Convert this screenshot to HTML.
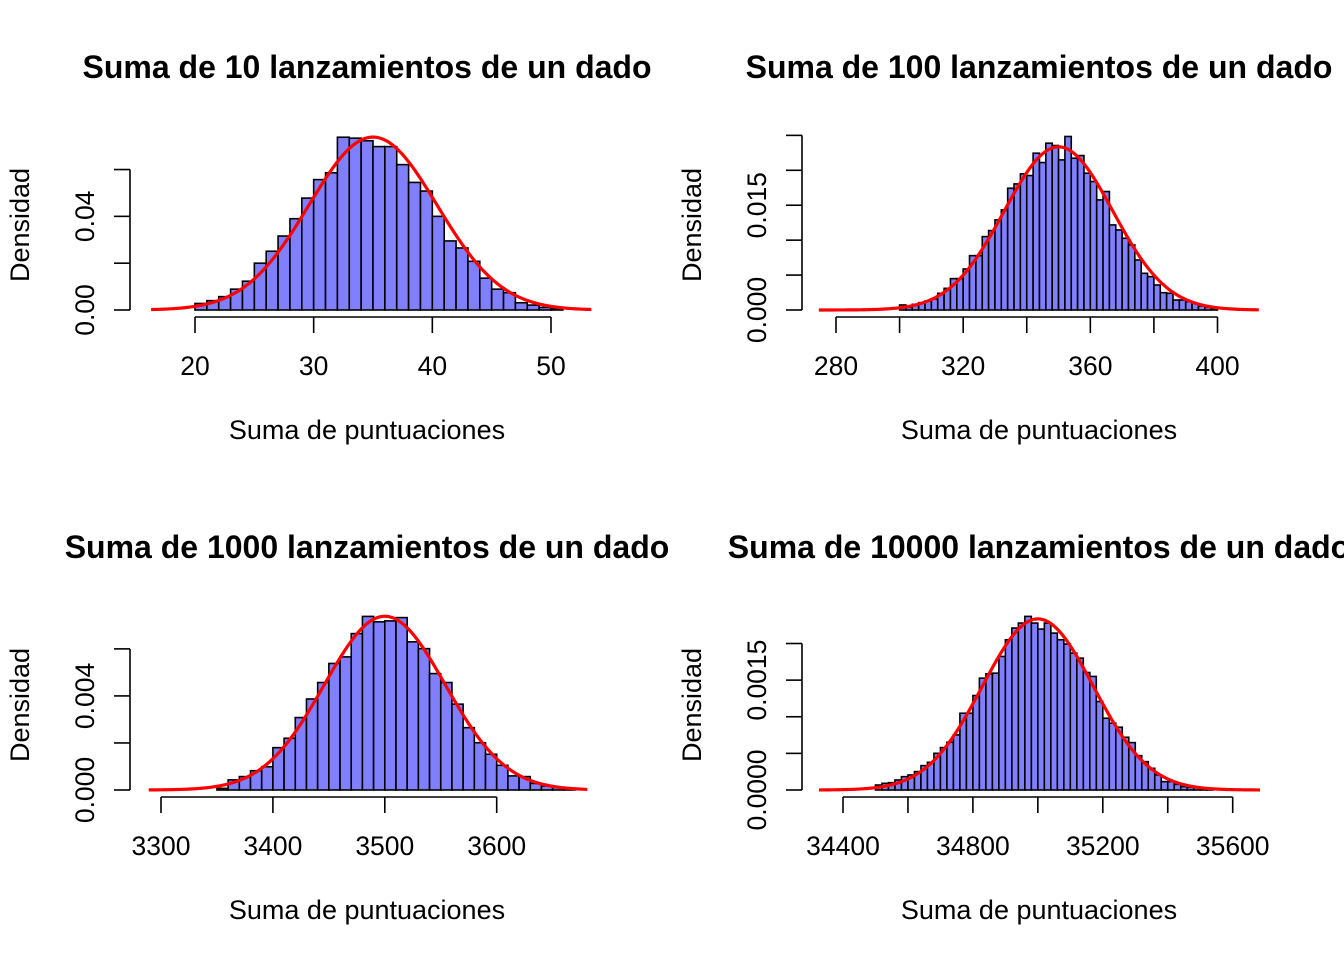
<!DOCTYPE html>
<html><head><meta charset="utf-8"><style>
html,body{margin:0;padding:0;background:#fff;}
svg{display:block;font-family:"Liberation Sans",Arial,sans-serif;}
</style></head><body>
<svg id="chart" width="1344" height="960" viewBox="0 0 1344 960" xmlns="http://www.w3.org/2000/svg"></svg>
<script>
// Panel 1: sum of 10 rolls, bins width 1 starting at 20
const p1Start = 20, p1Width = 1;
const p1Dens = [0.0028,0.004,0.0057,0.0089,0.0123,0.020,0.0251,0.0316,0.039,0.0478,0.0557,0.0586,0.0738,0.0734,0.0723,0.0698,0.0698,0.0621,0.0545,0.0508,0.040,0.0295,0.0265,0.0208,0.0136,0.0089,0.0074,0.0031,0.0021,0.0011,0.0007];
const p1XTicks = [20,30,40,50];
const p1XLabels = ["20","30","40","50"];
const p1YTicks = [0,0.02,0.04,0.06];
const p1YLabels = ["0.00","","0.04",""];
// Panel 2: sum of 100 rolls, bins width 2 starting at 300
const p2Start = 300, p2Width = 2;
const p2Dens = [0.00072,0.00038,0.00081,0.00105,0.00129,0.00158,0.00239,0.0031,0.00449,0.00449,0.00587,0.00778,0.00778,0.01051,0.01137,0.0129,0.01433,0.01743,0.01805,0.01949,0.01925,0.02245,0.02111,0.02388,0.02355,0.02149,0.02484,0.02173,0.02211,0.01958,0.01839,0.01576,0.01696,0.01218,0.01146,0.01027,0.00931,0.00716,0.00525,0.00478,0.00358,0.00248,0.00239,0.00143,0.00143,0.00119,0.00096,0.00057,0.00038,0.00024];
const p2XTicks = [280,300,320,340,360,380,400];
const p2XLabels = ["280","","320","","360","","400"];
const p2YTicks = [0,0.005,0.01,0.015,0.02,0.025];
const p2YLabels = ["0.000","","","0.015","",""];
// Panel 3: sum of 1000 rolls, bins width 10 starting at 3350
const p3Start = 3350, p3Width = 10;
const p3Dens = [0.00007,0.00043,0.00057,0.00082,0.00099,0.0018,0.0022,0.00308,0.00387,0.00457,0.00538,0.00566,0.00665,0.00738,0.00715,0.00719,0.00733,0.0063,0.00601,0.00495,0.00457,0.00365,0.00265,0.00201,0.00152,0.00105,0.0006,0.00057,0.00028,0.00017,0.00011,0.00007];
const p3XTicks = [3300,3400,3500,3600];
const p3XLabels = ["3300","3400","3500","3600"];
const p3YTicks = [0,0.002,0.004,0.006];
const p3YLabels = ["0.000","","0.004",""];
// Panel 4: sum of 10000 rolls, bins width 20 starting at 34500
const p4Start = 34500, p4Width = 20;
const p4Dens = [0.000068,0.000091,0.0001,0.000137,0.000182,0.000205,0.000251,0.000333,0.000378,0.000501,0.000579,0.000652,0.000752,0.001048,0.001048,0.00129,0.001527,0.001586,0.001595,0.001823,0.002051,0.002211,0.002279,0.00237,0.002279,0.002197,0.002279,0.002142,0.002051,0.001992,0.001869,0.0018,0.001604,0.00155,0.001208,0.00098,0.000912,0.000857,0.00072,0.000647,0.000469,0.000387,0.000296,0.000205,0.000114,0.000114,0.000077,0.000046,0.000036,0.000032,0.000023,0.000014];
const p4XTicks = [34400,34600,34800,35000,35200,35400,35600];
const p4XLabels = ["34400","","34800","","35200","","35600"];
const p4YTicks = [0,0.0005,0.001,0.0015,0.002];
const p4YLabels = ["0.0000","","","0.0015",""];

const NS = "http://www.w3.org/2000/svg";
const svg = document.getElementById("chart");
function mk(tag, attrs, parent){
  const e = document.createElementNS(NS, tag);
  for (const k in attrs) e.setAttribute(k, attrs[k]);
  (parent||svg).appendChild(e);
  return e;
}

const panels = [
  {n:10, start:p1Start, width:p1Width, dens:p1Dens, xt:p1XTicks, xl:p1XLabels, yt:p1YTicks, yl:p1YLabels,
   x0:20, px0:195, x1:50, px1:551, base:310, ypx:2341, yaxisX:130, cx:367, top:0, cmin:16.3, cmax:53.4},
  {n:100, start:p2Start, width:p2Width, dens:p2Dens, xt:p2XTicks, xl:p2XLabels, yt:p2YTicks, yl:p2YLabels,
   x0:280, px0:836, x1:400, px1:1217.5, base:310, ypx:6985, yaxisX:802, cx:1039, top:0, cmin:274.6, cmax:413},
  {n:1000, start:p3Start, width:p3Width, dens:p3Dens, xt:p3XTicks, xl:p3XLabels, yt:p3YTicks, yl:p3YLabels,
   x0:3300, px0:161, x1:3600, px1:496.7, base:790, ypx:23520, yaxisX:130, cx:367, top:480, cmin:3289, cmax:3681},
  {n:10000, start:p4Start, width:p4Width, dens:p4Dens, xt:p4XTicks, xl:p4XLabels, yt:p4YTicks, yl:p4YLabels,
   x0:34400, px0:843, x1:35600, px1:1232.7, base:790, ypx:73250, yaxisX:802, cx:1039, top:480, cmin:34326, cmax:35684}
];

panels.forEach((p, pi) => {
  const g = mk("g", {});
  
  
  const sx = v => p.px0 + (v - p.x0) * (p.px1 - p.px0) / (p.x1 - p.x0);
  const sy = d => p.base - d * p.ypx;

  const t = mk("text", {x:p.cx, y:p.top+78, "text-anchor":"middle", "font-size":"32", "font-weight":"bold", fill:"#000"}, g);
  t.textContent = "Suma de " + p.n + " lanzamientos de un dado";
  
  

  p.dens.forEach((d, i) => {
    const xa = sx(p.start + i * p.width), xb = sx(p.start + (i + 1) * p.width);
    const r = mk("rect", {x:xa, y:sy(d), width:xb - xa, height:p.base - sy(d), fill:"#8080ff", stroke:"#000", "stroke-width":"1.6"}, g);
    
    
  });

  const mu = p.n * 3.5, sd = Math.sqrt(p.n * 35 / 12);
  let pts = [];
  for (let k = 0; k <= 200; k++) {
    const v = p.cmin + (p.cmax - p.cmin) * k / 200;
    const d = Math.exp(-0.5 * ((v - mu) / sd) ** 2) / (sd * Math.sqrt(2 * Math.PI));
    pts.push(sx(v).toFixed(2) + "," + sy(d).toFixed(2));
  }
  const c = mk("polyline", {points:pts.join(" "), fill:"none", stroke:"#ff0000", "stroke-width":"3.2"}, g);
  
  

  const ay = p.base + 7;
  const xa = mk("g", {}, g);
  
  
  mk("line", {x1:sx(p.xt[0]), x2:sx(p.xt[p.xt.length-1]), y1:ay, y2:ay, stroke:"#000", "stroke-width":"1.6"}, xa);
  p.xt.forEach((v, i) => {
    mk("line", {x1:sx(v), x2:sx(v), y1:ay, y2:ay + 16, stroke:"#000", "stroke-width":"1.6"}, xa);
    if (p.xl[i]) {
      const tl = mk("text", {x:sx(v), y:p.base + 65, "text-anchor":"middle", "font-size":"26.5", fill:"#000"}, xa);
      tl.textContent = p.xl[i];
      
      
    }
  });
  const xt = mk("text", {x:p.cx, y:p.base + 129, "text-anchor":"middle", "font-size":"27", fill:"#000"}, g);
  xt.textContent = "Suma de puntuaciones";
  
  

  const ya = mk("g", {}, g);
  
  
  const yTop = sy(p.yt[p.yt.length-1]);
  mk("line", {x1:p.yaxisX, x2:p.yaxisX, y1:p.base, y2:yTop, stroke:"#000", "stroke-width":"1.6"}, ya);
  p.yt.forEach((v, i) => {
    mk("line", {x1:p.yaxisX - 16, x2:p.yaxisX, y1:sy(v), y2:sy(v), stroke:"#000", "stroke-width":"1.6"}, ya);
    if (p.yl[i]) {
      const lx = p.yaxisX - 36;
      const tl = mk("text", {x:lx, y:sy(v), "text-anchor":"middle", "font-size":"26.5", fill:"#000", transform:`rotate(-90 ${lx} ${sy(v)})`}, ya);
      tl.textContent = p.yl[i];
      
      
    }
  });
  const yx = p.yaxisX - 101, yy = p.top + 225;
  const yt = mk("text", {x:yx, y:yy, "text-anchor":"middle", "font-size":"27", fill:"#000", transform:`rotate(-90 ${yx} ${yy})`}, g);
  yt.textContent = "Densidad";
  
  
});
</script>
</body></html>
